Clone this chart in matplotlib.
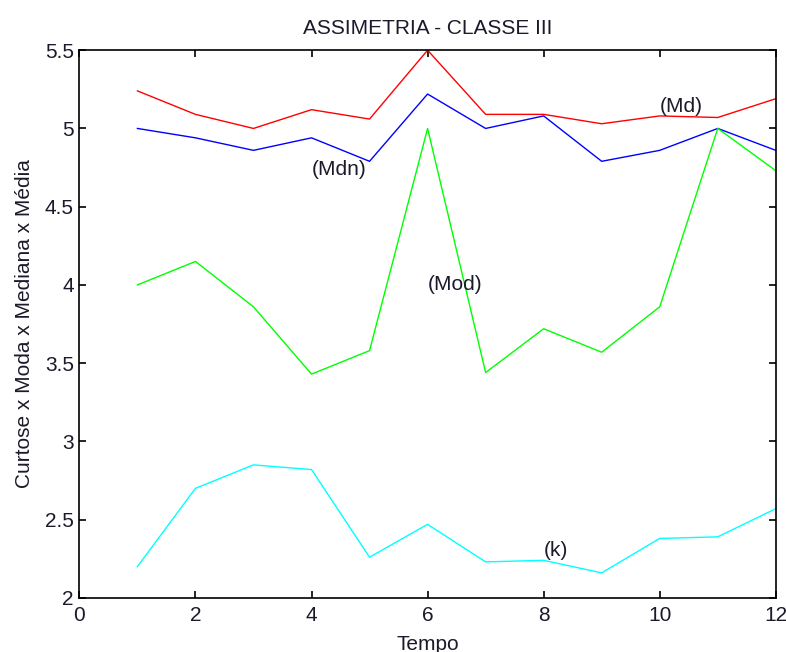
import matplotlib
matplotlib.use('Agg')
import matplotlib.pyplot as plt

# dados
tempo = [1, 2, 3, 4, 5, 6, 7, 8, 9, 10, 11, 12]
media = [5.24, 5.09, 5.00, 5.12, 5.06, 5.50, 5.09, 5.09, 5.03, 5.08, 5.07, 5.19]
mediana = [5.00, 4.94, 4.86, 4.94, 4.79, 5.22, 5.00, 5.08, 4.79, 4.86, 5.00, 4.86]
moda = [4.00, 4.15, 3.86, 3.43, 3.58, 5.00, 3.44, 3.72, 3.57, 3.86, 5.00, 4.73]
curtose = [2.20, 2.70, 2.85, 2.82, 2.26, 2.47, 2.23, 2.24, 2.16, 2.38, 2.39, 2.57]

# rótulos das curvas (posição do texto em coordenadas de dados)
rotulos = ['(Md)', '(Mdn)', '(Mod)', '(k)']
rot_x = [10, 4, 6, 8]
rot_y = [5.14, 4.74, 4.0, 2.3]

plt.rcParams['font.family'] = ['Liberation Sans', 'DejaVu Sans']
cor_txt = '#1a1a2a'

fig = plt.figure(figsize=(7.86, 6.52), dpi=100)
ax = fig.add_axes([0.101, 0.083, 0.886, 0.840])

ax.plot(tempo, media, color='#ff0000', linewidth=1.0)
ax.plot(tempo, mediana, color='#0000ff', linewidth=1.0)
ax.plot(tempo, moda, color='#00ff00', linewidth=1.0)
ax.plot(tempo, curtose, color='#00ffff', linewidth=1.0)

for txt, x, y in zip(rotulos, rot_x, rot_y):
    ax.text(x, y, txt, fontsize=15, ha='left', va='center', color=cor_txt)

ax.set_xlim(0, 12)
ax.set_ylim(2, 5.5)
ax.set_xticks(range(0, 13, 2))
ax.set_yticks([2, 2.5, 3, 3.5, 4, 4.5, 5, 5.5])
ax.set_yticklabels(['2', '2.5', '3', '3.5', '4', '4.5', '5', '5.5'])

ax.tick_params(direction='in', length=5, width=1.2, top=True, right=True,
               labelsize=15, colors='black', labelcolor=cor_txt)
ax.tick_params(axis='x', pad=6)
ax.tick_params(axis='y', pad=4)
for s in ax.spines.values():
    s.set_linewidth(1.2)

ax.set_title('ASSIMETRIA - CLASSE III', fontsize=15, pad=12, color=cor_txt)
ax.set_xlabel('Tempo', fontsize=15, labelpad=7, color=cor_txt)
ax.set_ylabel('Curtose x Moda x Mediana x Média', fontsize=15, labelpad=8,
              color=cor_txt)

fig.savefig('out.png', dpi=100)
